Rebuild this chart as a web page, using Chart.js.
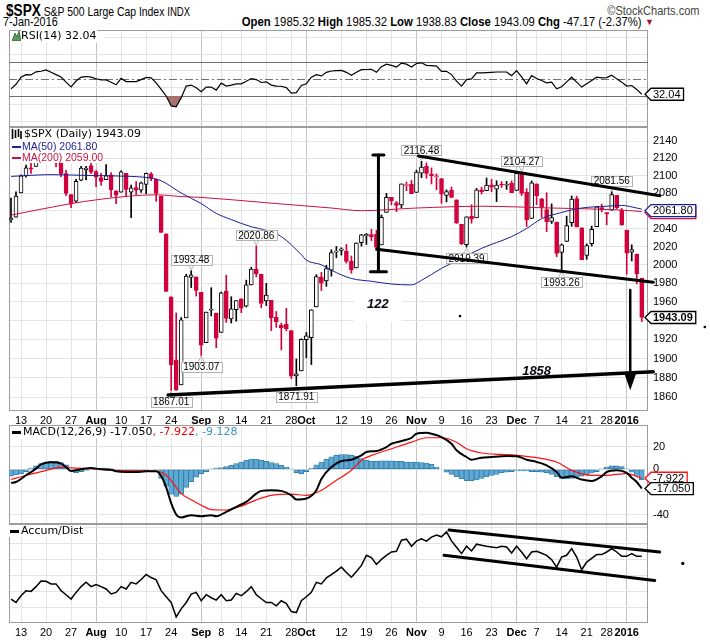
<!DOCTYPE html>
<html>
<head>
<meta charset="utf-8">
<script src="https://cdn.jsdelivr.net/npm/chart.js@4.4.0/dist/chart.umd.min.js"></script>
<style>
body { margin: 0; background: #fff; width: 710px; height: 643px; overflow: hidden; position: relative; font-family: "Liberation Sans", Arial, sans-serif; }
canvas { position: absolute; left: 0; }
.t { position: absolute; white-space: nowrap; color: #000; }
.leg { font-family: "DejaVu Sans", sans-serif; font-size: 11px; line-height: 12px; background: #fff; padding-right: 1px; }
.ma { font-family: "Liberation Sans", Arial, sans-serif; font-size: 10.5px; line-height: 11px; background: #fff; padding-right: 1px; }
</style>
</head>
<body>
<canvas id="rsiChart" width="710" height="98" style="top:30px"></canvas>
<canvas id="priceChart" width="710" height="304" style="top:127px"></canvas>
<canvas id="macdChart" width="710" height="100" style="top:425px"></canvas>
<canvas id="adChart" width="710" height="119" style="top:524px"></canvas>

<div class="t" style="left:6px;top:1px;transform:scaleX(0.8);transform-origin:left top"><b style="font-size:17px">$SPX</b><span style="font-size:13px"> S&amp;P 500 Large Cap Index </span><span style="font-size:12px">INDX</span></div>
<div class="t" style="left:3px;top:15px;font-size:12px;transform:scaleX(0.9);transform-origin:left top">7-Jan-2016</div>
<div class="t" style="right:68px;top:14px;font-size:13px;transform:scaleX(0.87);transform-origin:right top"><b>Open</b> 1985.32 <b>High</b> 1985.32 <b>Low</b> 1938.83 <b>Close</b> 1943.09 <b>Chg</b> -47.17 (-2.37%)</div>
<div class="t" style="left:645px;top:17px;font-size:9px;color:#a01030">&#9660;</div>
<div class="t" style="right:10px;top:3px;font-size:13px;color:#444;transform:scaleX(0.85);transform-origin:right top">&copy;StockCharts.com</div>

<div class="t" style="left:11px;top:31px;width:92px;height:12px;background:#fff"></div>
<svg class="t" style="left:12px;top:31px" width="9" height="10"><polygon points="0,10 3,2 5,6 7,0 9,10" fill="#5c9a5c" stroke="#2f5f2f" stroke-width="0.8"/></svg>
<div class="t leg" style="left:21px;top:30px">RSI(14) 32.04</div>

<div class="t" style="left:10px;top:128px;width:14px;height:12px;background:#fff"></div>
<svg class="t" style="left:11px;top:129px" width="11" height="10"><path d="M1.5 0V10M4.5 1V9M7.5 0V8M10 2V10" stroke="#000" stroke-width="1.6"/></svg>
<div class="t leg" style="left:24px;top:128px">$SPX (Daily) 1943.09</div>
<div class="t" style="left:10px;top:141px;width:12px;height:11px;background:#fff"></div>
<div class="t" style="left:12px;top:146px;width:9px;height:2px;background:#22229a"></div>
<div class="t ma" style="left:22px;top:141px;color:#22229a">MA(50) 2061.80</div>
<div class="t" style="left:10px;top:152px;width:12px;height:11px;background:#fff"></div>
<div class="t" style="left:12px;top:157px;width:9px;height:2px;background:#cc1144"></div>
<div class="t ma" style="left:22px;top:152px;color:#cc1144">MA(200) 2059.00</div>

<div class="t" style="left:10px;top:427px;width:13px;height:12px;background:#fff"></div>
<div class="t" style="left:12px;top:431px;width:9px;height:3px;background:#000"></div>
<div class="t leg" style="left:23px;top:426px">MACD(12,26,9) -17.050<span style="color:#e00">, -7.922</span><span style="color:#3a93c9">, -9.128</span></div>

<div class="t" style="left:9px;top:525px;width:12px;height:12px;background:#fff"></div>
<div class="t" style="left:10px;top:530px;width:9px;height:3px;background:#000"></div>
<div class="t leg" style="left:21px;top:525px">Accum/Dist</div>

<script>
// x axis: trading-day index 0 = 9 Jul 2015 ... 126 = 7 Jan 2016
const weekTicks = [2, 7, 12, 17, 22, 27, 32, 38, 42, 46, 51, 56, 59, 66, 71, 76, 81, 86, 91, 96, 101, 105, 110, 115, 119, 123];
const weekLabels = ["13", "20", "27", "Aug", "10", "17", "24", "Sep", "8", "14", "21", "28", "Oct", "12", "19", "26", "Nov", "9", "16", "23", "Dec", "7", "14", "21", "28", "2016"];
const monthTicks = [17, 38, 59, 81, 101, 123];

const open = [2049.73,2052.74,2080.03,2099.72,2109.01,2110.55,2126.80,2126.85,2127.55,2118.21,2114.16,2102.24,2078.19,2070.75,2094.70,2106.78,2111.60,
  2104.49,2097.68,2095.27,2100.75,2082.61,2080.98,2102.66,2081.10,2086.19,2083.15,2089.70,2101.99,2095.69,2076.61,2034.08,1965.15,1898.08,1872.75,1942.77,1986.06,1986.73,
  1970.09,1916.52,1950.79,1947.76,1927.30,1971.45,1941.59,1951.45,1963.06,1955.10,1978.02,1995.33,1989.66,1960.84,1961.39,1943.24,1934.81,1935.93,1929.18,1881.90,1887.14,
  1919.65,1921.77,1954.33,1986.63,1982.34,1994.01,2013.73,2015.65,2015.00,2003.66,1996.47,2024.37,2031.73,2033.13,2033.47,2021.88,2058.19,2075.08,2068.75,2066.48,2088.35,2090.00,
  2080.76,2102.63,2110.60,2101.68,2098.60,2096.56,2077.19,2083.41,2072.29,2044.64,2022.08,2053.67,2051.99,2083.70,2082.82,2089.41,2084.42,2089.30,2088.82,2090.95,
  2082.93,2101.71,2080.71,2051.24,2090.42,2073.39,2061.17,2047.93,2047.27,2013.37,2025.55,2046.50,2073.76,2040.81,2010.27,2023.15,2042.20,2063.52,2057.77,2060.54,2077.34,2060.59,
  2038.20,2013.78,2011.71,1985.32];
const high = [2074.28,2081.31,2100.67,2111.98,2114.14,2124.42,2128.91,2132.82,2128.49,2118.51,2116.87,2106.01,2078.19,2095.60,2110.60,2110.48,2114.24,
  2105.70,2102.51,2112.66,2103.32,2082.61,2105.35,2102.66,2089.06,2092.93,2092.45,2102.87,2103.47,2096.17,2076.61,2034.08,1965.15,1948.04,1943.09,1989.60,1993.48,1986.73,
  1970.09,1948.91,1975.01,1947.76,1970.42,1988.63,1965.29,1961.05,1963.06,1983.19,1997.26,2020.86,1989.66,1979.64,1961.39,1949.52,1937.17,1952.89,1929.18,1899.48,1920.53,
  1927.21,1951.36,1989.17,1991.62,1999.31,2016.50,2020.13,2018.66,2022.34,2009.56,2024.15,2033.54,2034.45,2039.12,2037.97,2055.20,2079.74,2075.14,2070.37,2090.35,2092.52,2094.32,
  2106.20,2116.48,2114.59,2108.78,2101.91,2096.56,2083.67,2086.94,2072.29,2044.64,2053.22,2066.69,2085.31,2086.74,2097.06,2095.61,2094.12,2093.00,2093.29,2093.81,
  2103.37,2104.27,2085.00,2093.84,2090.42,2073.85,2080.33,2067.65,2047.27,2022.92,2053.87,2076.72,2076.37,2040.81,2022.90,2042.74,2064.73,2067.36,2057.77,2081.56,2077.34,2062.54,
  2038.20,2021.94,2011.71,1985.32];
const low = [2046.88,2052.74,2080.03,2098.18,2102.49,2110.55,2119.88,2123.66,2115.40,2110.00,2098.63,2077.09,2063.52,2069.09,2094.08,2094.97,2102.07,
  2087.31,2088.60,2095.27,2075.53,2067.91,2080.98,2076.49,2052.09,2078.26,2080.61,2079.30,2094.14,2070.53,2035.73,1970.89,1867.01,1867.08,1872.75,1942.77,1975.19,1965.98,
  1903.07,1916.52,1944.72,1911.21,1927.30,1937.88,1937.19,1939.19,1948.27,1954.30,1977.93,1986.73,1953.45,1955.80,1929.22,1932.57,1908.92,1928.92,1879.21,1871.91,1887.14,
  1900.70,1893.70,1954.33,1971.99,1976.44,1987.53,2007.61,2010.55,2001.78,1990.73,1996.47,2020.46,2022.31,2026.61,2017.22,2021.88,2058.19,2066.53,2058.84,2063.11,2082.63,2079.34,
  2080.76,2097.51,2096.98,2090.41,2083.74,2068.24,2069.91,2074.85,2045.66,2022.02,2019.39,2045.90,2051.99,2078.76,2082.82,2081.39,2070.29,2086.30,2084.13,2080.41,
  2082.93,2077.11,2042.35,2051.24,2066.78,2052.32,2036.53,2045.67,2008.80,1993.26,2025.55,2042.43,2041.66,2005.33,2005.93,2020.49,2042.20,2058.73,2044.20,2060.54,2061.97,2043.62,
  1989.68,2004.17,1979.05,1938.83];
const close = [2051.31,2076.62,2099.60,2108.95,2107.40,2124.29,2126.64,2128.28,2119.21,2114.15,2102.15,2079.65,2067.64,2093.25,2108.57,2108.63,2103.84,
  2098.04,2093.32,2099.84,2083.56,2077.57,2104.18,2084.07,2086.05,2083.39,2091.54,2102.44,2096.92,2079.61,2035.73,1970.89,1893.21,1867.61,1940.51,1987.66,1988.87,1972.18,
  1913.85,1948.86,1951.13,1921.22,1969.41,1942.04,1952.29,1961.05,1953.03,1978.09,1995.31,1990.20,1958.03,1966.97,1942.74,1938.76,1932.24,1931.34,1881.77,1884.09,1920.03,
  1923.82,1951.36,1987.05,1979.92,1995.83,2013.43,2014.89,2017.46,2003.69,1994.24,2023.86,2033.11,2033.66,2030.77,2018.94,2052.51,2075.15,2071.18,2065.89,2090.35,2089.41,2079.36,
  2104.05,2109.79,2102.31,2099.93,2099.20,2078.58,2081.72,2075.00,2045.97,2023.04,2053.19,2050.44,2083.58,2081.24,2089.17,2086.59,2089.14,2088.87,2090.11,2080.41,
  2102.63,2079.51,2049.62,2091.69,2077.07,2063.59,2047.62,2052.23,2012.37,2021.94,2043.41,2073.07,2041.89,2005.55,2021.15,2038.97,2064.29,2060.99,2056.50,2078.36,2063.36,2043.94,
  2012.66,2016.71,1990.26,1943.09];

// moving averages as [day index, value]
const ma50 = [[0,2099],[8,2101],[16,2100],[24,2099],[28,2097],[30,2094],[34,2080],[38,2068],[41,2057],[44,2050],[48,2042],[51,2038],[54,2031],[58,2011],[59,2005],[62,2000],[64,1994],[68,1985],[72,1982],[76,1979],[80,1978],[82,1983],[86,1996],[90,2007],[94,2018],[100,2031],[103,2040],[106,2051],[110,2058],[114,2063],[119,2065],[122,2066],[125,2063],[126,2061.8]];
const ma200 = [[0,2055],[11,2067],[18,2073],[29,2078],[34,2076],[38,2075],[51,2069],[64,2063],[70,2060],[81,2063],[94,2065],[108,2063],[121,2061],[126,2059]];

const rsi = [38.5,44,52.5,55.5,55.1,58.8,59.5,61,58.3,55.5,52.6,46.5,40.9,47.8,52.5,53.2,52.4,50.5,49.2,49.1,46.4,43.3,51,47.2,47.2,47.2,49.5,52.2,
  51.6,45.7,38,30,18.2,17,28,41.8,43,39.8,35.1,40.6,40.6,37,45.3,41.8,43,44.5,44.5,47.5,50.8,49.6,46.1,46.9,43,41.8,41.6,40,33.5,33.9,42.5,44.5,
  52.4,55.5,53.9,58.2,59.8,60.2,60.6,58.2,54.7,58.2,61.4,61.6,61.8,58.2,64.9,68,66.5,64.5,69.2,68,64.5,68.8,69.6,66.5,66.2,65.7,59.4,59.4,55.5,47.6,
  41.8,49.6,50.4,57.5,57.5,57.8,58.2,58.6,58.6,58.6,54.3,60.2,52.7,44.5,54.3,50.8,48.4,45.7,46.5,38.6,41,46.9,52.4,46.5,40.6,44.5,48.4,52.4,51.6,52,
  54.7,50.4,46.5,41.8,42.5,37.8,32.04];

const macd = [[0,-12],[1,-11.2],[3,-5.3],[5,0.6],[6,4.4],[8,6.2],[10,5],[11,2],[12,-1.5],[14,0],[16,1.2],[18,0],[20,-0.3],[21,-1.8],[23,-2.4],[25,-2.4],[27,-1.8],[29,-1.8],
  [30,-6],[31,-16],[32,-30],[33,-40],[34,-42.6],[36,-40.6],[38,-41.5],[40,-40.6],[41,-41.5],[43,-37.6],[45,-33.2],[47,-28.8],[49,-21.5],[50,-19.1],[52,-18.5],[54,-19.1],
  [56,-23],[57,-26.8],[59,-25.9],[61,-18.5],[62,-8.5],[64,2],[66,7.4],[67,7.9],[68,8.5],[70,12.4],[71,15.3],[73,16.2],[75,19.7],[76,22.6],[78,25],[80,27.9],[81,31.5],
  [83,32.4],[84,31.5],[86,28.5],[88,22.6],[89,16.8],[91,10.9],[92,8.5],[94,10.3],[96,10.9],[98,11.5],[99,11.8],[101,11.5],[103,8.5],[105,6.5],[107,3.5],[109,-2.4],
  [110,-7.4],[112,-6.2],[114,-9.1],[116,-10.3],[118,-6.2],[119,-2.4],[121,-0.9],[123,-3.2],[124,-7.4],[125,-11.2],[126,-17.05]];
const signal = [[0,-9],[3,-5.3],[7,-1],[10,2],[12,1.2],[16,0.6],[21,-1],[29,-1.8],[30,-2.6],[31,-5.3],[32,-10],[33,-16],[34,-21.5],[36,-27],[38,-31.8],[40,-35.6],
  [43,-36],[46,-32.6],[49,-27],[52,-23],[56,-22],[59,-23],[62,-18.5],[65,-9.7],[68,-0.9],[70,8],[73,13.8],[76,18.2],[80,24],[83,27.9],[86,27.9],[89,24],[91,18.2],
  [94,14.4],[98,13.2],[101,12.4],[105,10.3],[109,6.5],[112,-0.9],[116,-5.3],[119,-5.3],[123,-3.8],[126,-7.922]];
const hist = [-6,-5,-4,-2,1,3,5,6,7,7,6,4,-1,-3,-2,-1,0,1,1,1,0.5,0,-0.5,-1,-1.5,-1.5,-1,-0.5,0,-0.5,
  -8,-15,-22,-24,-22,-16,-11,-7,-4,-2,0.5,1,1.5,2.5,3.5,5,6.5,8,9,9,8,7,6,5,3.5,2,0.5,-3,-4,-2,
  1,4,6.5,9,11,12.5,13,13,12.5,11.5,9.5,8,7,7,7.5,7.5,7.5,7,7,6.5,6.5,6.5,6,5.5,4.5,2,0,-2.5,-4.5,-6.5,
  -8.5,-10,-10,-9.5,-8,-6.5,-5.5,-4.5,-3,-2.5,-2,-1,-1.5,-1.5,-2,-2,-2.5,-3,-4.5,-6.5,-8,-8.5,-8,-7,-6,-5,-3.5,-2,0.5,2,
  3,3,2.5,0.5,-2.5,-5.5,-9.128];

// Accum/Dist (no scale printed on the chart, relative units)
const accDist = [23.7,20.3,27,32,31.3,36,41.5,41.3,38.7,38.7,32,28,23.7,30.3,36,40.3,36,38,36,33.7,28.7,30.3,36,33.7,40.3,38.7,43,48,45,42.7,
  32,26,20.3,6,14,20.3,28.7,30.3,22,28,25,22.7,28,22,22.7,29.3,27,31,36,28,24,20.3,20.3,17,22,19.3,11.3,10.3,22,26,
  30.3,40.3,38.7,44.7,48,51.3,55.3,50,45.3,51,57,67,64.7,58,63,67,70.3,71,82,83,76,81,83.3,81,85,87,85.3,90.3,81.3,75,
  68.7,76,71.3,78,77,76,75.3,74.5,76,75.3,69.3,76,70.3,63.7,70.3,71,69,67,62.7,55.3,65.3,67,73.7,65.3,52.7,60.3,64,67.7,67.7,70.3,
  73.7,70.3,66,66,68.7,66,66];

// value callouts: [day index, price, 1 = above the bar / 0 = below]
const callouts = [[36,1993.48,1],[49,2020.86,1],[38,1903.07,0],[32,1867.01,0],[57,1871.91,0],[82,2116.48,1],[91,2019.39,0],[102,2104.27,1],[110,1993.26,0],[120,2081.56,1]];

// hand-drawn annotations, in [day index, price]
const channelTop = [[81.4,2122.6],[129.6,2077]];
const channelBottom = [[73.05,2016.9],[128.3,1980.8]];
const supportLine = [[31.4,1862.4],[128.3,1886.3]];
const rangeBar = [73.4, 2123.7, 1992.4];
const dropArrow = [123.7, 1972.5, 1867.4];
const noteLabels = [[73.3,1957,"122"],[105,1887,"1858"]];
const priceDots = [[89.7,1944.6],[138.6,1933]];
const adTop = [[87.5,92],[129.6,70.3]];
const adBottom = [[86.5,67],[128.6,42]];
const adDots = [[134.2,59]];

const fam = '"Liberation Sans", Arial, sans-serif';
Chart.defaults.font.family = fam;

const red = "#d2003c";
const candleColor = close.map((c, i) => (c >= (i ? close[i - 1] : open[i]) ? "#000" : red));
const hollow = close.map((c, i) => c >= open[i]);

function xAxis(showLabels) {
    return {
        type: "linear", min: -0.4, max: 127.25, offset: false,
        afterBuildTicks: (s) => { s.ticks = weekTicks.map((v) => ({ value: v })); },
        afterFit: (s) => { s.height = showLabels ? 20 : 0; s.paddingLeft = 0; s.paddingRight = 0; },
        grid: { offset: false, drawTicks: false, color: (c) => (c.tick && monthTicks.includes(c.tick.value) ? "#c4c4c4" : "#e4e4e4") },
        border: { display: false },
        ticks: {
            display: showLabels, autoSkip: false, maxRotation: 0, minRotation: 0, padding: 3, color: "#000",
            font: (c) => ({ family: fam, size: 11, weight: c.tick && monthTicks.includes(c.tick.value) ? "bold" : "normal" }),
            callback: (v) => weekLabels[weekTicks.indexOf(v)],
        },
    };
}

function yAxis(type, min, max, tickValues, labelFn) {
    return {
        type: type, position: "right", min: min, max: max,
        afterBuildTicks: (s) => { s.ticks = tickValues.map((v) => ({ value: v })); },
        afterFit: (s) => { s.width = 62; s.paddingTop = 0; s.paddingBottom = 0; },
        grid: { drawTicks: false, color: "#e4e4e4" },
        border: { display: false },
        ticks: { padding: 5, color: "#000", font: { family: fam, size: 11 }, callback: labelFn },
    };
}

function baseOptions(bottomPad) {
    return {
        responsive: false, animation: false, events: [],
        layout: { padding: { left: 9, right: 0, top: 0, bottom: bottomPad } },
        plugins: { legend: { display: false }, tooltip: { enabled: false } },
    };
}

const frame = {
    id: "frame",
    beforeDatasetsDraw(chart) {
        const { ctx, chartArea: a } = chart;
        ctx.save();
        ctx.strokeStyle = "#9c9c9c";
        ctx.lineWidth = 1;
        ctx.strokeRect(a.left + 0.5, a.top + 0.5, a.right - a.left - 1, a.bottom - a.top - 1);
        ctx.restore();
    },
};

function drawTag(ctx, xr, y, text, color, bold) {
    ctx.save();
    ctx.font = (bold ? "bold " : "") + "11px " + fam;
    const w = ctx.measureText(text).width + 5;
    const x0 = xr - 3, x1 = xr + 3;
    ctx.beginPath();
    ctx.moveTo(x0, y);
    ctx.lineTo(x1, y - 6);
    ctx.lineTo(x1 + w, y - 6);
    ctx.lineTo(x1 + w, y + 6);
    ctx.lineTo(x1, y + 6);
    ctx.closePath();
    ctx.fillStyle = "#fff";
    ctx.fill();
    ctx.strokeStyle = color;
    ctx.lineWidth = 1.3;
    ctx.stroke();
    ctx.fillStyle = "#000";
    ctx.textBaseline = "middle";
    ctx.textAlign = "left";
    ctx.fillText(text, x1 + 2, y + 0.5);
    ctx.restore();
}

function line(ctx, x1, y1, x2, y2, w) {
    ctx.lineWidth = w;
    ctx.beginPath();
    ctx.moveTo(x1, y1);
    ctx.lineTo(x2, y2);
    ctx.stroke();
}

// RSI panel
new Chart(document.getElementById("rsiChart"), {
    type: "line",
    data: {
        datasets: [{
            data: rsi.map((v, i) => ({ x: i, y: v })),
            borderColor: "#000", borderWidth: 1.2, pointRadius: 0, tension: 0,
            fill: { target: { value: 30 }, above: "rgba(0,0,0,0)", below: "#a8716d" },
        }],
    },
    options: Object.assign(baseOptions(1), {
        scales: {
            x: xAxis(false),
            y: yAxis("linear", -7, 108.7, [0, 10, 20, 30, 40, 50, 60, 70, 80, 90, 100], (v) => ([10, 30, 50, 70, 90].includes(v) ? v : "")),
        },
    }),
    plugins: [frame, {
        id: "rsiLevels",
        beforeDatasetsDraw(chart) {
            const { ctx, chartArea: a, scales: { y } } = chart;
            ctx.save();
            ctx.strokeStyle = "#707070";
            [30, 70].forEach((v) => line(ctx, a.left, Math.round(y.getPixelForValue(v)) + 0.5, a.right, Math.round(y.getPixelForValue(v)) + 0.5, 1));
            ctx.setLineDash([8, 3, 2, 3]);
            const y50 = Math.round(y.getPixelForValue(50)) + 0.5;
            line(ctx, a.left, y50, a.right, y50, 1);
            ctx.restore();
        },
        afterDraw(chart) {
            const last = rsi[rsi.length - 1];
            drawTag(chart.ctx, chart.chartArea.right, chart.scales.y.getPixelForValue(last), last.toFixed(2), "#000", false);
        },
    }],
});

// price panel
const priceTicks = [];
for (let v = 1860; v <= 2140; v += 20) priceTicks.push(v);

new Chart(document.getElementById("priceChart"), {
    type: "bar",
    data: {
        datasets: [
            {
                label: "ma50", type: "line", order: 0,
                data: ma50.map(([i, v]) => ({ x: i, y: v })),
                borderColor: "#1c1c94", borderWidth: 1, pointRadius: 0, cubicInterpolationMode: "monotone",
            },
            {
                label: "ma200", type: "line", order: 1,
                data: ma200.map(([i, v]) => ({ x: i, y: v })),
                borderColor: "#cc1144", borderWidth: 1, pointRadius: 0, cubicInterpolationMode: "monotone",
            },
            {
                label: "body", order: 2, grouped: false, barThickness: 4, minBarLength: 1, borderSkipped: false,
                data: close.map((c, i) => ({ x: i, y: [open[i], c] })),
                backgroundColor: candleColor.map((col, i) => (hollow[i] ? "#fff" : col)),
                borderColor: candleColor, borderWidth: 1,
            },
            {
                label: "wick", order: 3, grouped: false, barThickness: 1,
                data: close.map((c, i) => ({ x: i, y: [low[i], high[i]] })),
                backgroundColor: candleColor,
            },
        ],
    },
    options: Object.assign(baseOptions(0), {
        scales: {
            x: xAxis(true),
            y: yAxis("logarithmic", 1846.2, 2156.5, priceTicks, (v) => String(v)),
        },
    }),
    plugins: [frame, {
        id: "priceNotes",
        afterDatasetsDraw(chart) {
            const { ctx, chartArea: a, scales: { x, y } } = chart;
            const px = (i) => x.getPixelForValue(i);
            const py = (v) => y.getPixelForValue(v);
            ctx.save();

            // value callouts
            ctx.font = "10px " + fam;
            callouts.forEach(([i, v, above]) => {
                const text = v.toFixed(2);
                const cx = px(i), cy = py(v);
                const w = ctx.measureText(text).width + 5, h = 10;
                const by = above ? cy - 6 - h : cy + 6;
                ctx.strokeStyle = "#b4b4b4";
                ctx.lineWidth = 1;
                ctx.beginPath();
                if (above) { ctx.moveTo(cx - 3, by + h); ctx.lineTo(cx, cy - 1); ctx.lineTo(cx + 3, by + h); }
                else { ctx.moveTo(cx - 3, by); ctx.lineTo(cx, cy + 1); ctx.lineTo(cx + 3, by); }
                ctx.stroke();
                ctx.fillStyle = "#fff";
                ctx.fillRect(cx - w / 2, by, w, h);
                ctx.strokeRect(Math.round(cx - w / 2) + 0.5, Math.round(by) + 0.5, Math.round(w), h);
                ctx.fillStyle = "#000";
                ctx.textAlign = "center";
                ctx.textBaseline = "middle";
                ctx.fillText(text, cx, by + h / 2 + 1);
            });

            // white patch and notes
            ctx.font = "italic bold 13px " + fam;
            noteLabels.forEach(([i, v, t], k) => {
                if (k === 0) { ctx.fillStyle = "#fff"; ctx.fillRect(px(i) - 24, py(v) - 19, 48, 37); }
                ctx.fillStyle = "#0a0a14";
                ctx.textAlign = "center";
                ctx.textBaseline = "middle";
                ctx.fillText(t, px(i), py(v));
            });

            // trend lines
            ctx.strokeStyle = "#000";
            ctx.lineCap = "round";
            [channelTop, channelBottom].forEach((seg) => line(ctx, px(seg[0][0]), py(seg[0][1]), px(seg[1][0]), py(seg[1][1]), 3));
            line(ctx, px(supportLine[0][0]), py(supportLine[0][1]), px(supportLine[1][0]), py(supportLine[1][1]), 3.5);
            const [ri, rTop, rBot] = rangeBar;
            line(ctx, px(ri), py(rTop), px(ri), py(rBot), 3);
            line(ctx, px(ri) - 5.5, py(rTop), px(ri) + 5.5, py(rTop), 3);
            line(ctx, px(ri) - 8, py(rBot), px(ri) + 8, py(rBot), 3);

            const [ai, aTop, aTip] = dropArrow;
            const tipY = py(aTip);
            line(ctx, px(ai), py(aTop), px(ai), tipY - 15, 2.5);
            ctx.fillStyle = "#000";
            ctx.beginPath();
            ctx.moveTo(px(ai) - 6, tipY - 17);
            ctx.lineTo(px(ai) + 6, tipY - 17);
            ctx.lineTo(px(ai), tipY);
            ctx.closePath();
            ctx.fill();

            priceDots.forEach(([i, v]) => { ctx.beginPath(); ctx.arc(px(i), py(v), 1.3, 0, Math.PI * 2); ctx.fill(); });
            ctx.restore();

            // right-side value tags
            const r = a.right;
            drawTag(ctx, r, py(ma200[ma200.length - 1][1]) + 1, ma200[ma200.length - 1][1].toFixed(2), "#cc1144", false);
            drawTag(ctx, r, py(ma50[ma50.length - 1][1]) + 1.5, ma50[ma50.length - 1][1].toFixed(2), "#1c1c94", false);
            drawTag(ctx, r, py(close[close.length - 1]), close[close.length - 1].toFixed(2), "#000", true);
        },
    }],
});

// MACD panel
new Chart(document.getElementById("macdChart"), {
    type: "bar",
    data: {
        datasets: [
            {
                type: "line", order: 0, data: macd.map(([i, v]) => ({ x: i, y: v })),
                borderColor: "#000", borderWidth: 2, pointRadius: 0, cubicInterpolationMode: "monotone",
            },
            {
                type: "line", order: 1, data: signal.map(([i, v]) => ({ x: i, y: v })),
                borderColor: "#ff1010", borderWidth: 1.2, pointRadius: 0, cubicInterpolationMode: "monotone",
            },
            {
                order: 2, grouped: false, barPercentage: 1, categoryPercentage: 1,
                data: hist.map((v, i) => ({ x: i, y: v })),
                backgroundColor: "#5ea8d2", borderColor: "#2f7aa8", borderWidth: 0.8, borderSkipped: false,
            },
        ],
    },
    options: Object.assign(baseOptions(1), {
        scales: {
            x: xAxis(false),
            y: yAxis("linear", -48.4, 39.2, [-40, -30, -20, -10, 0, 10, 20, 30], (v) => (v % 20 === 0 ? v : "")),
        },
    }),
    plugins: [frame, {
        id: "macdTags",
        afterDraw(chart) {
            const { ctx, chartArea: a, scales: { y } } = chart;
            const s = signal[signal.length - 1][1], m = macd[macd.length - 1][1];
            drawTag(ctx, a.right, y.getPixelForValue(s), s.toFixed(3), "#ff1010", false);
            drawTag(ctx, a.right, y.getPixelForValue(m), m.toFixed(3), "#000", false);
        },
    }],
});

// Accum/Dist panel
new Chart(document.getElementById("adChart"), {
    type: "line",
    data: {
        datasets: [{
            data: accDist.map((v, i) => ({ x: i, y: v })),
            borderColor: "#000", borderWidth: 1.5, pointRadius: 0, tension: 0,
        }],
    },
    options: Object.assign(baseOptions(0), {
        scales: {
            x: xAxis(true),
            y: yAxis("linear", 0, 98, [15, 31, 47, 63, 79, 95], () => ""),
        },
    }),
    plugins: [frame, {
        id: "adNotes",
        afterDatasetsDraw(chart) {
            const { ctx, scales: { x, y } } = chart;
            ctx.save();
            ctx.strokeStyle = "#000";
            ctx.fillStyle = "#000";
            ctx.lineCap = "round";
            [adTop, adBottom].forEach((seg) => line(ctx, x.getPixelForValue(seg[0][0]), y.getPixelForValue(seg[0][1]), x.getPixelForValue(seg[1][0]), y.getPixelForValue(seg[1][1]), 3));
            adDots.forEach(([i, v]) => { ctx.beginPath(); ctx.arc(x.getPixelForValue(i), y.getPixelForValue(v), 1.6, 0, Math.PI * 2); ctx.fill(); });
            ctx.restore();
        },
    }],
});
</script>
</body>
</html>
